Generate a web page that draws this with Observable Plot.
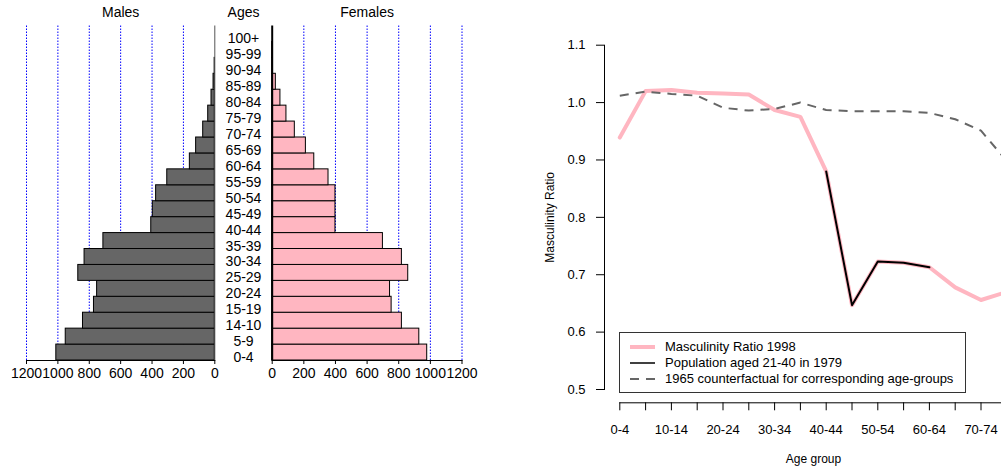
<!DOCTYPE html>
<html>
<head>
<meta charset="utf-8">
<script src="https://cdn.jsdelivr.net/npm/d3@7"></script>
<script src="https://cdn.jsdelivr.net/npm/@observablehq/plot@0.6"></script>
<style>
  html, body { margin: 0; padding: 0; background: #fff; overflow: hidden; }
  #wrap { position: relative; width: 1001px; height: 470px; overflow: hidden; background: #fff;
          font-family: "Liberation Sans", Arial, sans-serif; }
  #wrap > svg { position: absolute; }
  .legend { position: absolute; left: 619px; top: 332px; width: 347px; height: 61px;
            box-sizing: border-box; border: 1px solid #333; background: #fff;
            font-size: 13px; color: #000; padding-top: 6px; }
  .legend .row { height: 16px; line-height: 16px; white-space: nowrap; display: flex; align-items: center; }
  .legend svg { margin-left: 10px; margin-right: 10px; flex: none; }
</style>
</head>
<body>
<div id="wrap"></div>
<script>
// ---------- Population pyramid data ----------
const ageGroups = ["0-4","5-9","14-10","15-19","20-24","25-29","30-34","35-39","40-44","45-49",
                   "50-54","55-59","60-64","65-69","70-74","75-79","80-84","85-89","90-94","95-99","100+"];
const males   = [1010, 950, 840, 770, 750, 870, 830, 710, 405, 395, 374, 303, 159, 119, 74, 42, 21, 8, 1, 0, 0];
const females = [ 980, 930, 820, 755, 745, 860, 820, 700, 400, 400, 400, 356, 266, 213, 143, 90, 52, 23, 4, 1, 0];
const pyramidTicks = [0, 200, 400, 600, 800, 1000, 1200];
const gridValues = [200, 400, 600, 800, 1000, 1200];

// ---------- Masculinity ratio data ----------
const ratioGroups = ["0-4","5-9","10-14","15-19","20-24","25-29","30-34","35-39","40-44","45-49",
                     "50-54","55-59","60-64","65-69","70-74","75-79"];
const ratio1998 = [0.939, 1.020, 1.022, 1.017, 1.016, 1.014, 0.987, 0.975, 0.880, 0.647,
                   0.723, 0.721, 0.713, 0.678, 0.656, 0.670];
const cohortGroups = ["40-44","45-49","50-54","55-59","60-64"];
const cohort1979 = [0.880, 0.647, 0.723, 0.721, 0.713];
const counterfactual1965 = [1.012, 1.019, 1.015, 1.012, 0.991, 0.986, 0.989, 1.000, 0.987, 0.985,
                            0.985, 0.985, 0.982, 0.971, 0.951, 0.898];
const ratioTicks = [0.5, 0.6, 0.7, 0.8, 0.9, 1.0, 1.1];
const labeledGroups = ratioGroups.filter((d, i) => i % 2 === 0);

const legendItems = [
  {label: "Masculinity Ratio 1998", color: "#FFB6C1", width: 4, dash: null},
  {label: "Population aged 21-40 in 1979", color: "#000", width: 1.5, dash: null},
  {label: "1965 counterfactual for corresponding age-groups", color: "#666", width: 2, dash: "9,7"}
];

// ---------- build tables ----------
const maleRows = ageGroups.map((age, i) => ({age, value: males[i]}));
const femaleRows = ageGroups.map((age, i) => ({age, value: females[i]}));
const ageOrder = ageGroups.slice().reverse();
const ratioRows = ratioGroups.map((g, i) => ({group: g, v: ratio1998[i]}));
const cohortRows = cohortGroups.map((g, i) => ({group: g, v: cohort1979[i]}));
const cfRows = ratioGroups.map((g, i) => ({group: g, v: counterfactual1965[i]}));

const FONT = "Liberation Sans, Arial, sans-serif";
const baseStyle = {fontFamily: FONT, background: "transparent", overflow: "visible", color: "#000"};
const wrap = document.getElementById("wrap");
const plainNum = d => String(d);

const PH = 400, PT = 25.5, PB = 40;

// ---------- Males panel ----------
const malePlot = Plot.plot({
  width: 240, height: PH, marginLeft: 26, marginRight: 25.7, marginTop: PT, marginBottom: PB,
  style: {...baseStyle, fontSize: "14px"},
  x: {domain: [0, 1200], reverse: true},
  y: {type: "band", domain: ageOrder, padding: 0, round: false, axis: null},
  marks: [
    Plot.ruleX(gridValues, {stroke: "blue", strokeDasharray: "1.5,1.5"}),
    Plot.barX(maleRows, {x: "value", y: "age", fill: "#666", stroke: "#000", strokeWidth: 1}),
    Plot.ruleX([0], {stroke: "#555"}),
    Plot.frame({anchor: "bottom"}),
    Plot.axisX({ticks: pyramidTicks, tickFormat: plainNum, tickSize: 4, tickPadding: 4, label: null, fontSize: 14}),
    Plot.text(["Males"], {frameAnchor: "top", lineAnchor: "middle", dy: -13.5, fontSize: 14})
  ]
});
malePlot.style.left = "0px"; malePlot.style.top = "0px";
wrap.appendChild(malePlot);

// ---------- Ages labels ----------
const agePlot = Plot.plot({
  width: 58, height: PH, marginLeft: 0, marginRight: 0, marginTop: PT, marginBottom: PB,
  style: {...baseStyle, fontSize: "14px"},
  y: {type: "band", domain: ageOrder, padding: 0, round: false, axis: null},
  marks: [
    Plot.text(ageGroups, {y: d => d, frameAnchor: "middle", dy: 5, fontSize: 14}),
    Plot.text(["Ages"], {frameAnchor: "top", lineAnchor: "middle", dy: -13.5, fontSize: 14})
  ]
});
agePlot.style.left = "214px"; agePlot.style.top = "0px";
wrap.appendChild(agePlot);

// ---------- Females panel ----------
const femalePlot = Plot.plot({
  width: 260, height: PH, marginLeft: 31.7, marginRight: 38.5, marginTop: PT, marginBottom: PB,
  style: {...baseStyle, fontSize: "14px"},
  x: {domain: [0, 1200]},
  y: {type: "band", domain: ageOrder, padding: 0, round: false, axis: null},
  marks: [
    Plot.ruleX(gridValues, {stroke: "blue", strokeDasharray: "1.5,1.5"}),
    Plot.barX(femaleRows, {x: "value", y: "age", fill: "#FFB6C1", stroke: "#000", strokeWidth: 1}),
    Plot.ruleX([0], {stroke: "#000", strokeWidth: 2}),
    Plot.frame({anchor: "bottom"}),
    Plot.axisX({ticks: pyramidTicks, tickFormat: plainNum, tickSize: 4, tickPadding: 4, label: null, fontSize: 14}),
    Plot.text(["Females"], {frameAnchor: "top", lineAnchor: "middle", dy: -13.5, fontSize: 14})
  ]
});
femalePlot.style.left = "240px"; femalePlot.style.top = "0px";
wrap.appendChild(femalePlot);

// ---------- Masculinity ratio chart ----------
const ratioPlot = Plot.plot({
  width: 522, height: 470, marginLeft: 104, marginRight: 0, marginTop: 44.7, marginBottom: 81,
  style: {...baseStyle, fontSize: "13px"},
  x: {type: "point", domain: ratioGroups, range: [119.3, 506.3], padding: 0, round: false},
  y: {domain: [0.5, 1.1]},
  marks: [
    Plot.frame({anchor: "left"}),
    Plot.axisY({ticks: ratioTicks, tickFormat: d3.format(".1f"), tickSize: 8, tickPadding: 11,
                label: null, fontSize: 13}),
    Plot.ruleY([0.5], {x1: () => ratioGroups[0], x2: () => ratioGroups[ratioGroups.length - 1], dy: 13.3}),
    Plot.axisX({ticks: ratioGroups, tickSize: 8, tickPadding: 14, dy: 13.3, label: null, fontSize: 13,
                tickFormat: d => labeledGroups.includes(d) ? d : ""}),
    Plot.line(ratioRows, {x: "group", y: "v", stroke: "#FFB6C1", strokeWidth: 4}),
    Plot.line(cohortRows, {x: "group", y: "v", stroke: "#000", strokeWidth: 2}),
    Plot.line(cfRows, {x: "group", y: "v", stroke: "#666", strokeWidth: 2, strokeDasharray: "9,7",
                       strokeLinecap: "butt"}),
    Plot.text(["Masculinity Ratio"], {frameAnchor: "left", textAnchor: "middle", lineAnchor: "middle",
                                      rotate: -90, dx: -54, fontSize: 12}),
    Plot.text(["Age group"], {frameAnchor: "bottom", lineAnchor: "middle", dy: 69.5, fontSize: 12})
  ]
});
ratioPlot.style.left = "500px"; ratioPlot.style.top = "0px";
wrap.appendChild(ratioPlot);

// ---------- Legend ----------
const legend = document.createElement("div");
legend.className = "legend";
for (const item of legendItems) {
  const row = document.createElement("div");
  row.className = "row";
  const ns = "http://www.w3.org/2000/svg";
  const s = document.createElementNS(ns, "svg");
  s.setAttribute("width", "25"); s.setAttribute("height", "16");
  const ln = document.createElementNS(ns, "line");
  ln.setAttribute("x1", "0"); ln.setAttribute("x2", "25");
  ln.setAttribute("y1", "8"); ln.setAttribute("y2", "8");
  ln.setAttribute("stroke", item.color); ln.setAttribute("stroke-width", item.width);
  if (item.dash) ln.setAttribute("stroke-dasharray", item.dash);
  s.appendChild(ln);
  const t = document.createElement("span");
  t.textContent = item.label;
  row.appendChild(s); row.appendChild(t);
  legend.appendChild(row);
}
wrap.appendChild(legend);
</script>
</body>
</html>
